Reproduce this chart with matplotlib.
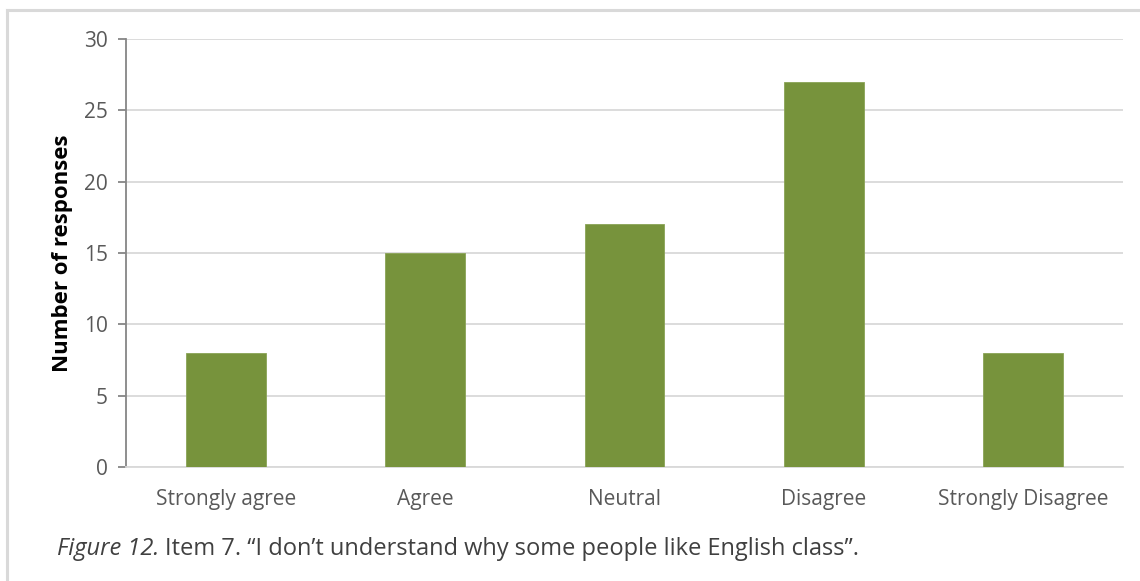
import matplotlib
matplotlib.use("Agg")
import matplotlib.pyplot as plt
from matplotlib.lines import Line2D

categories = ["Strongly agree", "Agree", "Neutral", "Disagree", "Strongly Disagree"]
responses = [8, 15, 17, 27, 8]
yticks = [0, 5, 10, 15, 20, 25, 30]

plt.rcParams['font.family'] = ['Open Sans', 'DejaVu Sans']

fig = plt.figure(figsize=(11.4, 5.81), dpi=100)
ax = fig.add_axes([0.1105, 0.196, 0.8745, 0.737])

x = range(len(categories))
ax.bar(x, responses, width=0.4, color="#77933c", edgecolor="#8aa356", linewidth=0.6, zorder=3)

ax.set_xlim(-0.5, len(categories) - 0.5)
ax.set_ylim(0, 30)
ax.set_yticks(yticks)
ax.set_xticks(list(x))
ax.set_xticklabels(categories)
ax.yaxis.grid(True, color="#d9d9d9", linewidth=1.3, zorder=0)
ax.set_axisbelow(True)

for s in ["top", "right"]:
    ax.spines[s].set_visible(False)
ax.spines["left"].set_color("#868686")
ax.spines["left"].set_linewidth(1.3)
ax.spines["bottom"].set_color("#d9d9d9")
ax.spines["bottom"].set_linewidth(1.3)

ax.tick_params(axis="y", colors="#868686", labelcolor="#595959", labelsize=15,
               length=6, width=1.3, pad=7)
ax.tick_params(axis="x", length=0, labelcolor="#595959", labelsize=15, pad=16)

ax.set_ylabel("Number of responses", fontsize=16, fontweight="bold", color="black", labelpad=8)

# outer frame: top and left edges only
fig.add_artist(Line2D([7 / 1140, 1], [1 - 10 / 581] * 2, color="#d9d9d9", linewidth=2.2,
                      transform=fig.transFigure))
fig.add_artist(Line2D([7 / 1140] * 2, [0, 1 - 10 / 581], color="#d9d9d9", linewidth=2.2,
                      transform=fig.transFigure))

# caption, italic label followed by regular text
cap_y = 1 - 549 / 581
t1 = fig.text(57 / 1140, cap_y, "Figure 12.", style="italic", fontsize=17,
              color="#404040", va="center")
fig.canvas.draw()
bb = t1.get_window_extent()
fig.text(bb.x1 / fig.bbox.width + 0.005, cap_y,
         "Item 7. \u201cI don\u2019t understand why some people like English class\u201d.",
         fontsize=17, color="#404040", va="center")

fig.savefig("out.png", dpi=100)
